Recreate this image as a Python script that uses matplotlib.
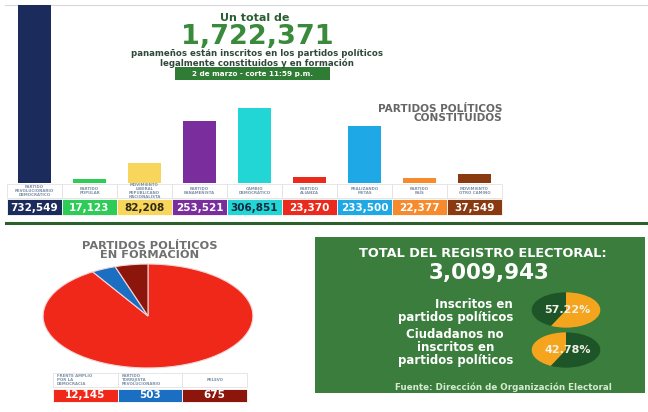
import matplotlib
matplotlib.use('Agg')
import matplotlib.pyplot as plt
from matplotlib.patches import Rectangle

# datos del registro (2 de marzo)
partidos = ['PARTIDO\nREVOLUCIONARIO\nDEMOCRÁTICO', 'PARTIDO\nPOPULAR',
            'MOVIMIENTO\nLIBERAL\nREPUBLICANO\nNACIONALISTA', 'PARTIDO\nPANAMEÑISTA',
            'CAMBIO\nDEMOCRÁTICO', 'PARTIDO\nALIANZA', 'REALIZANDO\nMETAS',
            'PARTIDO\nPAÍS', 'MOVIMIENTO\nOTRO CAMINO']
inscritos = [732549, 17123, 82208, 253521, 306851, 23370, 233500, 22377, 37549]
colores = ['#1b2b5c', '#2fcb57', '#f8d65c', '#7a2e9e', '#22d6d6',
           '#ea2a1c', '#1fa8e6', '#f78a2c', '#8a3a10']
color_texto = ['white', 'white', '#2e2a12', 'white', '#13283f',
               'white', 'white', 'white', 'white']

formacion = ['FRENTE AMPLIO\nPOR LA\nDEMOCRACIA', 'PARTIDO\nTORRIJISTA\nREVOLUCIONARIO', 'RELEVO']
formacion_inscritos = [12145, 503, 675]
formacion_colores = ['#f0281a', '#1b6fc2', '#8c160b']

registro_total = 3009943
pct_inscritos = [57.22, 42.78]

W, H = 648, 412
VERDE = '#3b7d3d'
OSCURO = '#1d5428'
NARANJA = '#f5a41e'


def caja(x0, y0, x1, y1):
    # pixeles -> coordenadas de figura
    return [x0 / W, 1 - y1 / H, (x1 - x0) / W, (y1 - y0) / H]


fig = plt.figure(figsize=(W / 100, H / 100), dpi=100)
fig.patch.set_facecolor('white')

bg = fig.add_axes([0, 0, 1, 1])
bg.set_xlim(0, W)
bg.set_ylim(H, 0)
bg.axis('off')

# lineas de separacion
bg.plot([5, W], [5, 5], color='#d8d8d8', lw=0.8)
bg.plot([6, W], [223, 223], color='#2b5f2b', lw=2.2)

# ---- barras partidos constituidos ----
n = len(inscritos)
x0, x1 = 7, 502
celda = (x1 - x0) / n
axb = fig.add_axes(caja(x0, 5, x1, 183))
axb.bar(range(n), inscritos, width=0.6, color=colores)
axb.set_xlim(-0.5, n - 0.5)
axb.set_ylim(0, max(inscritos))
axb.axis('off')

for i in range(n):
    cx = x0 + i * celda
    bg.add_patch(Rectangle((cx, 184), celda, 14, facecolor='white', edgecolor='#e2e2e2', lw=0.6))
    bg.text(cx + celda / 2, 191, partidos[i], ha='center', va='center', fontsize=2.8,
            color='#7d90a8', fontweight='bold', linespacing=0.95)
    bg.add_patch(Rectangle((cx, 199), celda, 16, facecolor=colores[i], edgecolor='white', lw=0.6))
    bg.text(cx + celda / 2, 207.5, '{:,}'.format(inscritos[i]), ha='center', va='center',
            fontsize=7.5, color=color_texto[i], fontweight='bold')

# titulo
total = sum(inscritos) + sum(formacion_inscritos)
bg.text(255, 20.5, 'Un total de', ha='center', va='baseline', fontsize=8,
        fontweight='bold', color='#2c5e33')
bg.text(257, 43.5, '{:,}'.format(total), ha='center', va='baseline', fontsize=19.5,
        fontweight='bold', color='#3a8a3c')
bg.text(257, 58.5, 'panameños están inscritos en los partidos políticos\n'
        'legalmente constituidos y en formación', ha='center', va='center',
        fontsize=6.2, fontweight='bold', color='#2f4a3a', linespacing=1.0)
bg.add_patch(Rectangle((175, 67), 155, 13, facecolor='#2f7d35', edgecolor='none'))
bg.text(252, 73.5, '2 de marzo - corte 11:59 p.m.', ha='center', va='center',
        fontsize=5.2, fontweight='bold', color='white')

bg.text(502, 112, 'PARTIDOS POLÍTICOS', ha='right', va='baseline', fontsize=7.6,
        fontweight='bold', color='#666666')
bg.text(502, 121, 'CONSTITUIDOS', ha='right', va='baseline', fontsize=7.6,
        fontweight='bold', color='#666666')

# ---- partidos en formacion ----
bg.text(150, 248.5, 'PARTIDOS POLÍTICOS', ha='center', va='baseline', fontsize=8.2,
        fontweight='bold', color='#707070')
bg.text(150, 258, 'EN FORMACIÓN', ha='center', va='baseline', fontsize=8.2,
        fontweight='bold', color='#707070')

axp = fig.add_axes(caja(41, 263, 255, 369))
axp.pie(formacion_inscritos, colors=formacion_colores, startangle=90, counterclock=False,
        wedgeprops=dict(edgecolor='#f3d6d6', linewidth=0.8))
axp.set_aspect('auto')
axp.set_xlim(-1.02, 1.02)
axp.set_ylim(-1.02, 1.02)
axp.axis('off')

fx0 = 53
fw = 64.7
for i in range(len(formacion)):
    cx = fx0 + i * fw
    bg.add_patch(Rectangle((cx, 373), fw, 14, facecolor='white', edgecolor='#e2e2e2', lw=0.6))
    bg.text(cx + 4 if i < 2 else cx + fw / 2, 380, formacion[i], ha='left' if i < 2 else 'center',
            va='center', fontsize=2.8, color='#7d90a8', fontweight='bold', linespacing=0.95)
    bg.add_patch(Rectangle((cx, 389), fw, 12.5, facecolor=formacion_colores[i],
                           edgecolor='white', lw=0.6))
    bg.text(cx + fw / 2, 395.5, '{:,}'.format(formacion_inscritos[i]), ha='center',
            va='center', fontsize=7.5, color='white', fontweight='bold')

# ---- panel verde registro electoral ----
bg.add_patch(Rectangle((315, 237), 330, 156, facecolor=VERDE, edgecolor='none'))
bg.text(483, 257, 'TOTAL DEL REGISTRO ELECTORAL:', ha='center', va='baseline',
        fontsize=9.3, fontweight='bold', color='white')
bg.text(489, 279, '{:,}'.format(registro_total), ha='center', va='baseline',
        fontsize=15.5, fontweight='bold', color='white')

bg.text(513, 311, 'Inscritos en\npartidos políticos', ha='right', va='center',
        multialignment='right', fontsize=8.5, fontweight='bold', color='white',
        linespacing=1.05)
bg.text(513, 347.5, 'Ciudadanos no\ninscritos en\npartidos políticos', ha='right',
        va='center', multialignment='center', fontsize=8.5, fontweight='bold',
        color='white', linespacing=1.0)

pies = [(292, 328, True), (332, 368, False)]
for (y0, y1, horario), pct in zip(pies, pct_inscritos):
    ax = fig.add_axes(caja(531, y0, 601, y1))
    ax.pie([pct, 100 - pct], colors=[NARANJA, OSCURO], startangle=90, counterclock=not horario)
    ax.set_aspect('auto')
    ax.set_xlim(-1.02, 1.02)
    ax.set_ylim(-1.02, 1.02)
    ax.axis('off')
    ax.text(0.05, 0, '{:.2f}%'.format(pct), ha='center', va='center', fontsize=8,
            fontweight='bold', color='#f4f1e6')

bg.text(503, 387, 'Fuente: Dirección de Organización Electoral', ha='center', va='center',
        fontsize=6.3, fontweight='bold', color='#d6ead0')

fig.savefig('out.png', dpi=100)
